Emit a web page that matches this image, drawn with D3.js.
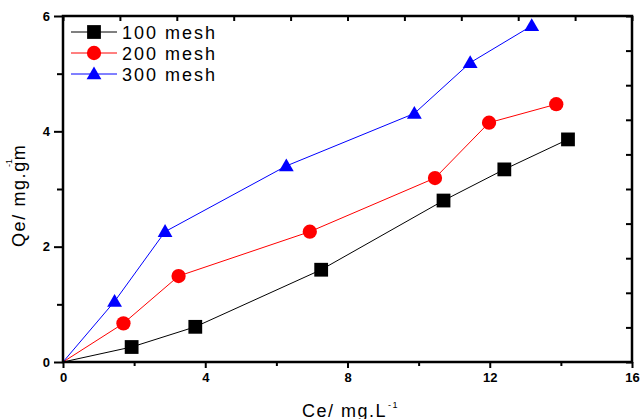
<!DOCTYPE html>
<html>
<head>
<meta charset="utf-8">
<script src="https://cdn.jsdelivr.net/npm/d3@7/dist/d3.min.js"></script>
<style>
  body { margin: 0; background: #fff; }
  svg { display: block; }
  text { font-family: "Liberation Sans", Arial, sans-serif; }
</style>
</head>
<body>
<svg id="chart" width="642" height="419"></svg>
<script>
// ---- data ----
const seriesNames = ["100 mesh", "200 mesh", "300 mesh"];
const seriesColors = ["#000000", "#ff0000", "#0000ff"];
const seriesSymbols = ["square", "circle", "triangle"];
const ce100 = [0, 1.93, 3.72, 7.26, 10.70, 12.41, 14.20];
const qe100 = [0, 0.26, 0.61, 1.60, 2.80, 3.34, 3.86];
const ce200 = [0, 1.70, 3.25, 6.94, 10.46, 11.98, 13.87];
const qe200 = [0, 0.67, 1.49, 2.26, 3.19, 4.15, 4.47];
const ce300 = [0, 1.45, 2.87, 6.28, 9.88, 11.45, 13.18];
const qe300 = [0, 1.05, 2.26, 3.40, 4.31, 5.19, 5.83];
const xMajorTicks = [0, 4, 8, 12, 16];
const xMinorTicks = [2, 6, 10, 14];
const yMajorTicks = [0, 2, 4, 6];
const yMinorTicks = [1, 3, 5];
const xTitle = "Ce/ mg.L";
const yTitle = "Qe/ mg.gm";

const seriesX = [ce100, ce200, ce300];
const seriesY = [qe100, qe200, qe300];

// ---- layout ----
const svg = d3.select("#chart");
const L = 63, R = 632, T = 16, B = 362;
const x = d3.scaleLinear().domain([0, 16]).range([L, R]);
const y = d3.scaleLinear().domain([0, 6]).range([B, T]);

const symType = { square: d3.symbolSquare, circle: d3.symbolCircle, triangle: d3.symbolTriangle };
const symSize = { square: 190, circle: 160, triangle: 95 };

// ---- series ----
const line = d3.line().x(d => x(d[0])).y(d => y(d[1]));
seriesNames.forEach((name, i) => {
  const pts = seriesX[i].map((v, j) => [v, seriesY[i][j]]);
  const g = svg.append("g");
  g.append("path").attr("d", line(pts)).attr("fill", "none")
    .attr("stroke", seriesColors[i]).attr("stroke-width", 1);
  g.selectAll("path.m").data(pts.filter(p => p[0] > 0)).enter().append("path")
    .attr("class", "m")
    .attr("transform", d => `translate(${x(d[0])},${y(d[1]) + (seriesSymbols[i] === "triangle" ? 1 : 0)})`)
    .attr("d", d3.symbol().type(symType[seriesSymbols[i]]).size(symSize[seriesSymbols[i]]))
    .attr("fill", seriesColors[i]);
});

// ---- axes ----
const axW = 2.5;
function styleAxis(g) {
  g.select(".domain").remove();
  g.selectAll(".tick line").attr("stroke", "#000").attr("stroke-width", 2);
  g.selectAll(".tick text").attr("font-size", 13).attr("font-weight", "bold")
    .attr("font-family", "Liberation Sans, Arial, sans-serif").attr("fill", "#000");
}
// bottom major
svg.append("g").attr("transform", `translate(0,${B})`)
  .call(d3.axisBottom(x).tickValues(xMajorTicks).tickSize(6).tickPadding(5).tickFormat(d3.format("d")))
  .call(styleAxis);
// bottom minor
svg.append("g").attr("transform", `translate(0,${B})`)
  .call(d3.axisBottom(x).tickValues(xMinorTicks).tickSize(4).tickFormat(""))
  .call(styleAxis);
// left major
svg.append("g").attr("transform", `translate(${L},0)`)
  .call(d3.axisLeft(y).tickValues(yMajorTicks).tickSize(9).tickPadding(4).tickFormat(d3.format("d")))
  .call(styleAxis);
// left minor
svg.append("g").attr("transform", `translate(${L},0)`)
  .call(d3.axisLeft(y).tickValues(yMinorTicks).tickSize(6).tickFormat(""))
  .call(styleAxis);
// top inward ticks
svg.append("g").attr("transform", `translate(0,${T})`)
  .call(d3.axisTop(x).tickValues(d3.range(0, 10.5, 1).map(k => k * 1.6)).tickSize(-5).tickFormat(""))
  .call(styleAxis);
// right inward ticks
svg.append("g").attr("transform", `translate(${R},0)`)
  .call(d3.axisRight(y).tickValues(d3.range(0, 10.5, 1).map(k => k * 0.6)).tickSize(-6).tickFormat(""))
  .call(styleAxis);

// frame
svg.append("rect").attr("x", L).attr("y", T).attr("width", R - L).attr("height", B - T)
  .attr("fill", "none").attr("stroke", "#000").attr("stroke-width", axW);

// ---- axis titles ----
const xt = svg.append("text").attr("x", 302).attr("y", 417)
  .attr("font-size", 18).attr("letter-spacing", 1.5).attr("fill", "#000");
xt.append("tspan").text(xTitle);
xt.append("tspan").attr("font-size", 9).attr("dy", -9).attr("dx", 1).text("-1");

const yt = svg.append("g").attr("transform", "translate(25,247) rotate(-90)");
yt.append("text").attr("x", 0).attr("y", 0).attr("font-size", 18)
  .attr("letter-spacing", 1.6).attr("fill", "#000").text(yTitle);
yt.append("text").attr("x", 80).attr("y", -13).attr("font-size", 9)
  .attr("fill", "#000").text("-1");

// ---- legend ----
const legY = [32, 53, 74];
seriesNames.forEach((name, i) => {
  const lg = svg.append("g");
  lg.append("line").attr("x1", 71).attr("x2", 117).attr("y1", legY[i]).attr("y2", legY[i])
    .attr("stroke", seriesColors[i]).attr("stroke-width", 1);
  lg.append("path").attr("transform", `translate(94,${legY[i] + (seriesSymbols[i] === "triangle" ? 1 : 0)})`)
    .attr("d", d3.symbol().type(symType[seriesSymbols[i]]).size(symSize[seriesSymbols[i]]))
    .attr("fill", seriesColors[i]);
  lg.append("text").attr("x", 122).attr("y", legY[i] + 6.5).attr("font-size", 18)
    .attr("letter-spacing", 2).attr("fill", "#000").text(name);
});
</script>
</body>
</html>
